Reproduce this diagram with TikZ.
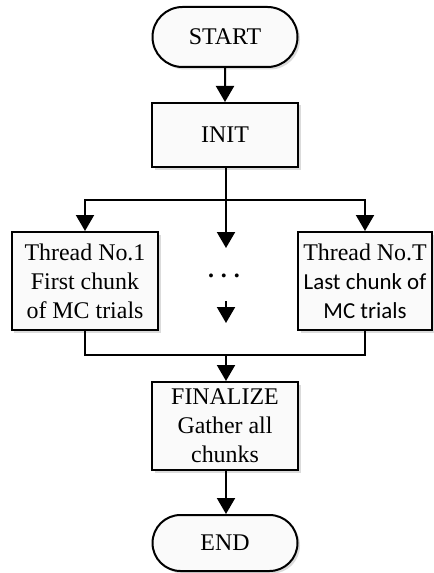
\documentclass[tikz,border=0pt]{standalone}
\usepackage{fontspec}
\setmainfont{Liberation Serif}
\newfontfamily\calfont{Carlito}
\usetikzlibrary{arrows.meta,shapes.misc,shadows}
\newcommand{\serifsz}{\rmfamily\fontsize{24}{29}\selectfont}
\newcommand{\sanssz}{\calfont\fontsize{23}{29}\selectfont}
\begin{document}
\begin{tikzpicture}[x=1bp,y=-1bp,
  base/.style={draw=black, line width=2bp, fill=gray!4, align=center, inner sep=0pt,
     font=\serifsz,
     drop shadow={shadow xshift=2.5bp, shadow yshift=-2.5bp, fill=gray!35, opacity=0.8}},
  term/.style={base, rounded rectangle, minimum width=145bp, minimum height=60bp},
  proc/.style={base, rectangle, minimum width=146bp},
  arr/.style={line width=2bp, -{Triangle[width=18bp,length=16bp]}},
  ln/.style={line width=2bp}]
\useasboundingbox (0,0) rectangle (434,573);
\node[term] (start) at (225,37) {START};
\node[proc, minimum height=64bp] (init) at (225,135) {INIT};
\node[proc, minimum height=98bp] (t1) at (85,281) {\serifsz Thread No.1\\\serifsz First chunk\\\serifsz of MC trials};
\node[proc, minimum height=98bp, minimum width=134bp] (tT) at (365,281) {\serifsz Thread No.T\\\sanssz Last chunk of\\\sanssz MC trials};
\node[font=\serifsz\bfseries, inner sep=0pt, anchor=base] (dots) at (224,277) {.\hspace{7bp}.\hspace{7bp}.};
\node[proc, minimum height=88bp] (fin) at (225,426) {FINALIZE\\Gather all\\chunks};
\node[term, minimum height=56bp] (end) at (225,543) {END};
\coordinate (split) at (226,200);
\coordinate (midtip) at (226,248);
\coordinate (sa) at (226,301);
\coordinate (sb) at (226,323);
\coordinate (join) at (226,355);
\draw[arr] (start) -- (init);
\draw[arr] (init.south -| split) -- (midtip);
\draw[arr] (split) -| (t1.north);
\draw[arr] (split) -| (tT.north);
\draw[arr] (sa) -- (sb);
\draw[ln] (t1.south) |- (join) -| (tT.south);
\draw[arr] (join) -- (fin.north -| join);
\draw[arr] (fin.south -| join) -- (end.north -| join);
\end{tikzpicture}
\end{document}
